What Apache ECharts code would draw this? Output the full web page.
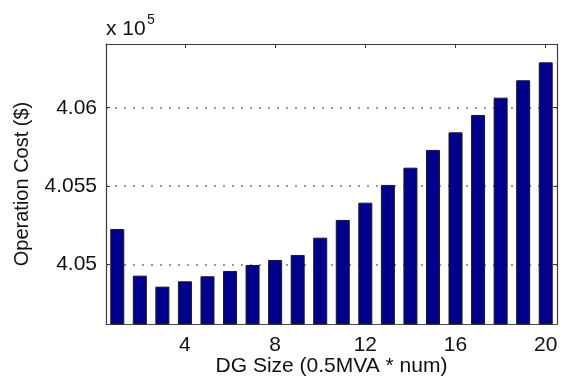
<!DOCTYPE html>
<html>
<head>
<meta charset="utf-8">
<script src="https://cdn.jsdelivr.net/npm/echarts@6/dist/echarts.min.js"></script>
<style>
  html, body { margin: 0; padding: 0; background: #fff; }
  #chart { width: 562px; height: 376px; }
</style>
</head>
<body>
<div id="chart"></div>
<script>
// DG size index (0.5 MVA units)
const dgSizes = ['1','2','3','4','5','6','7','8','9','10','11','12','13','14','15','16','17','18','19','20'];
// Operation cost, in units of 10^5 $
const operationCost = [
  4.05227, 4.04930, 4.04860, 4.04894, 4.04926, 4.04960, 4.04998, 4.05030, 4.05062, 4.05172,
  4.05285, 4.05395, 4.05508, 4.05618, 4.05731, 4.05843, 4.05954, 4.06064, 4.06175, 4.06289
];
// y tick labels (scaled by 10^5)
const yTicks = [4.05, 4.055, 4.06];
const yRange = [4.04622, 4.06406];

const FONT = '"Liberation Sans", Arial, Helvetica, sans-serif';
const AXIS_COLOR = '#3c3c3c';
const showEvery4 = (idx) => (idx + 1) % 4 === 0;

const chart = echarts.init(document.getElementById('chart'), null, { renderer: 'canvas' });

chart.setOption({
  animation: false,
  backgroundColor: '#ffffff',
  grid: { left: 106, right: 5, top: 44, bottom: 52, containLabel: false, outerBoundsMode: 'none' },
  graphic: [
    { type: 'text', left: 106, top: 19,
      style: { text: 'x 10', font: '21px ' + FONT, fill: '#111' } },
    { type: 'text', left: 147, top: 13,
      style: { text: '5', font: '14px ' + FONT, fill: '#111' } }
  ],
  xAxis: [
    {
      type: 'category',
      data: dgSizes,
      position: 'bottom',
      name: 'DG Size (0.5MVA * num)',
      nameLocation: 'middle',
      nameGap: 32,
      nameMoveOverlap: false,
      nameTextStyle: { fontFamily: FONT, fontSize: 21, color: '#111', verticalAlign: 'top' },
      axisLine: { lineStyle: { color: '#4a4a6e', width: 1.2 } },
      axisTick: { show: true, inside: true, length: 4, alignWithLabel: true, interval: showEvery4,
                  lineStyle: { color: AXIS_COLOR } },
      axisLabel: { interval: showEvery4, fontFamily: FONT, fontSize: 21, color: '#111', margin: 11 },
      splitLine: { show: false }
    },
    {
      type: 'category',
      data: dgSizes,
      position: 'top',
      axisLine: { lineStyle: { color: AXIS_COLOR, width: 1.2 } },
      axisTick: { show: true, inside: true, length: 4, alignWithLabel: true, interval: showEvery4,
                  lineStyle: { color: AXIS_COLOR } },
      axisLabel: { show: false },
      splitLine: { show: false }
    }
  ],
  yAxis: [
    {
      type: 'value',
      position: 'left',
      min: yRange[0],
      max: yRange[1],
      scale: true,
      name: 'Operation Cost ($)',
      nameLocation: 'middle',
      nameGap: 74,
      nameMoveOverlap: false,
      nameRotate: 90,
      nameTextStyle: { fontFamily: FONT, fontSize: 20, color: '#111' },
      axisLine: { show: true, lineStyle: { color: AXIS_COLOR, width: 1.2 } },
      axisTick: { show: true, inside: true, length: 4, customValues: yTicks, lineStyle: { color: AXIS_COLOR } },
      axisLabel: { customValues: yTicks, fontFamily: FONT, fontSize: 21, color: '#111', margin: 9,
                   formatter: (v) => String(Math.round(v * 1000) / 1000) },
      splitLine: { show: true, lineStyle: { color: '#777', type: [2, 7], width: 1.5 } }
    },
    {
      type: 'value',
      position: 'right',
      min: yRange[0],
      max: yRange[1],
      scale: true,
      axisLine: { show: true, lineStyle: { color: AXIS_COLOR, width: 1.2 } },
      axisTick: { show: true, inside: true, length: 4, customValues: yTicks, lineStyle: { color: AXIS_COLOR } },
      axisLabel: { show: false },
      splitLine: { show: false }
    }
  ],
  series: [
    {
      type: 'bar',
      xAxisIndex: 0,
      yAxisIndex: 0,
      data: operationCost,
      barWidth: 14,
      itemStyle: { color: '#00008c', borderColor: '#1a1a1a', borderWidth: 1 }
    }
  ]
});
</script>
</body>
</html>
